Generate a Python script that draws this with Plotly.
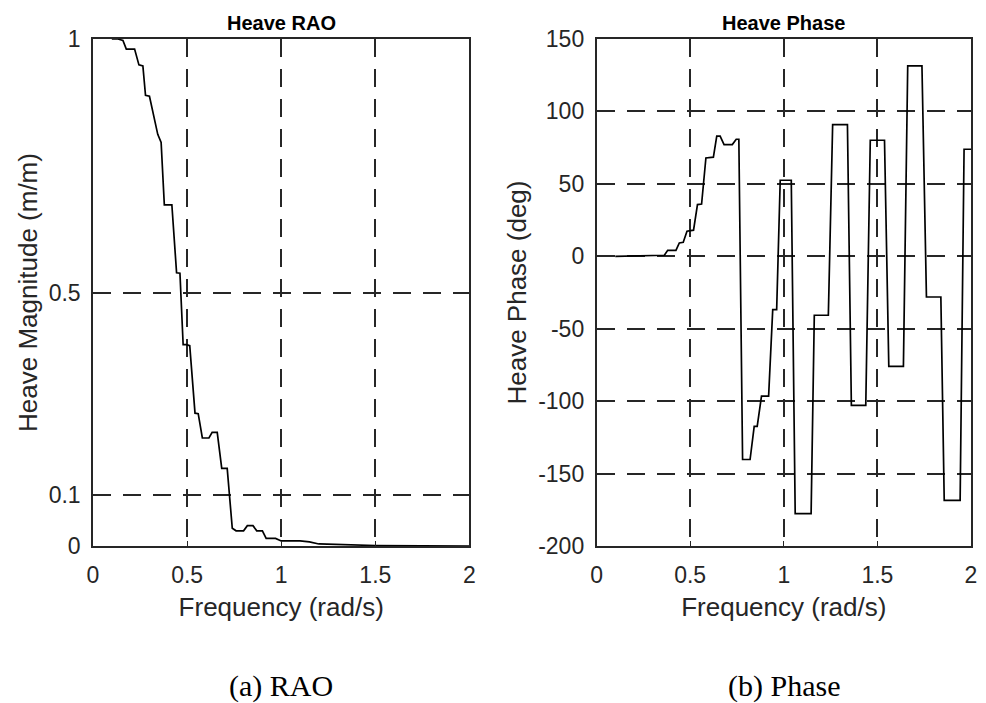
import plotly.graph_objects as go
from plotly.subplots import make_subplots

# ---- data ----
rao_freq = [0.100, 0.116, 0.133, 0.159, 0.177, 0.221, 0.244, 0.265, 0.279, 0.300,
            0.344, 0.362, 0.379, 0.419, 0.444, 0.462, 0.479, 0.496, 0.514, 0.542,
            0.559, 0.581, 0.616, 0.633, 0.660, 0.684, 0.713, 0.740, 0.760, 0.800,
            0.820, 0.850, 0.870, 0.900, 0.920, 0.970, 1.000, 1.100, 1.150, 1.200,
            1.300, 1.500, 2.000]
rao_mag = [1.000, 1.000, 1.000, 0.997, 0.980, 0.980, 0.949, 0.947, 0.889, 0.887,
           0.812, 0.796, 0.673, 0.673, 0.539, 0.538, 0.397, 0.397, 0.395, 0.262,
           0.261, 0.213, 0.213, 0.224, 0.224, 0.153, 0.153, 0.035, 0.030, 0.030,
           0.040, 0.040, 0.030, 0.030, 0.015, 0.015, 0.010, 0.010, 0.008, 0.004,
           0.003, 0.001, 0.000]

phase_freq = [0.100, 0.362, 0.380, 0.424, 0.442, 0.463, 0.483, 0.518, 0.539, 0.561,
              0.584, 0.624, 0.642, 0.660, 0.681, 0.725, 0.746, 0.760, 0.780, 0.820,
              0.842, 0.858, 0.881, 0.919, 0.941, 0.962, 0.981, 1.040, 1.061, 1.146,
              1.163, 1.238, 1.261, 1.340, 1.361, 1.438, 1.462, 1.538, 1.561, 1.639,
              1.662, 1.738, 1.762, 1.839, 1.857, 1.942, 1.963, 2.000]
phase_deg = [0.0, 0.7, 4.1, 4.1, 9.2, 9.7, 17.3, 18.0, 35.7, 36.1,
             67.9, 68.4, 82.9, 82.9, 77.1, 77.1, 80.8, 80.8, -140.3, -140.3,
             -117.4, -117.4, -96.5, -96.5, -36.8, -36.8, 52.5, 52.5, -177.7, -177.7,
             -40.7, -40.7, 90.9, 90.9, -102.9, -102.9, 80.1, 80.1, -76.0, -76.0,
             131.4, 131.4, -28.1, -28.1, -168.5, -168.5, 73.9, 73.9]

x_ticks = [0, 0.5, 1, 1.5, 2]
x_ticklabels = ["0", "0.5", "1", "1.5", "2"]
rao_ticks = [0, 0.1, 0.5, 1]
rao_ticklabels = ["0", "0.1", "0.5", "1"]
phase_ticks = [-200, -150, -100, -50, 0, 50, 100, 150]
phase_ticklabels = ["-200", "-150", "-100", "-50", "0", "50", "100", "150"]

# ---- styling ----
W, H = 986, 703
INK = "#262626"
SANS = "Liberation Sans, Arial, sans-serif"
SERIF = "Liberation Serif, Times New Roman, serif"

ML, MR, MT, MB = 93, 9, 39, 157
PW = W - ML - MR

fig = make_subplots(rows=1, cols=2)
fig.add_trace(go.Scatter(x=rao_freq, y=rao_mag, mode="lines",
                         line=dict(color="black", width=1.7), showlegend=False),
              row=1, col=1)
fig.add_trace(go.Scatter(x=phase_freq, y=phase_deg, mode="lines",
                         line=dict(color="black", width=1.7), showlegend=False),
              row=1, col=2)

common_axis = dict(
    showline=True, linecolor=INK, linewidth=1.5, mirror="ticks",
    showgrid=True, gridcolor=INK, gridwidth=1.5, griddash="18px,12px",
    zeroline=False, ticks="inside", ticklen=5, tickcolor=INK, tickwidth=1.2,
    tickfont=dict(family=SANS, size=23, color=INK),
    title_font=dict(family=SANS, size=26, color=INK),
)

fig.update_xaxes(**common_axis, range=[0, 2], tickmode="array",
                 tickvals=x_ticks, ticktext=x_ticklabels,
                 ticklabelstandoff=8,
                 title_text="Frequency (rad/s)", title_standoff=10)
fig.update_xaxes(domain=[0, (472 - ML) / PW], row=1, col=1)
fig.update_xaxes(domain=[(600 - ML) / PW, 1.0], row=1, col=2)

fig.update_yaxes(**common_axis)
fig.update_yaxes(range=[0, 1], tickmode="array", tickvals=rao_ticks,
                 ticktext=rao_ticklabels, ticklabelstandoff=6,
                 title_text="Heave Magnitude (m/m)", title_standoff=4,
                 domain=[0, 1], row=1, col=1)
fig.update_yaxes(range=[-200, 150], tickmode="array", tickvals=phase_ticks,
                 ticktext=phase_ticklabels, ticklabelstandoff=6,
                 title_text="Heave Phase (deg)", title_standoff=4,
                 domain=[0, 1], row=1, col=2)

left_c = (282.5 - ML) / PW
right_c = (788.5 - ML) / PW
anns = [
    dict(text="<b>Heave RAO</b>", x=left_c, y=1, yshift=16),
    dict(text="<b>Heave Phase</b>", x=right_c, y=1, yshift=16),
]
for a in anns:
    fig.add_annotation(xref="paper", yref="paper", showarrow=False,
                       xanchor="center", yanchor="middle",
                       font=dict(family=SANS, size=20, color="black"), **a)

fig.add_annotation(text="(a) RAO", xref="paper", yref="paper", x=left_c, y=0,
                   yshift=-(686 - 546), showarrow=False, xanchor="center",
                   yanchor="middle", font=dict(family=SERIF, size=30, color="black"))
fig.add_annotation(text="(b) Phase", xref="paper", yref="paper", x=right_c, y=0,
                   yshift=-(686 - 546), showarrow=False, xanchor="center",
                   yanchor="middle", font=dict(family=SERIF, size=30, color="black"))

fig.update_layout(
    width=W, height=H, autosize=False,
    margin=dict(l=ML, r=MR, t=MT, b=MB, pad=0),
    paper_bgcolor="white", plot_bgcolor="white",
    showlegend=False,
)

fig.write_html("out.html")
